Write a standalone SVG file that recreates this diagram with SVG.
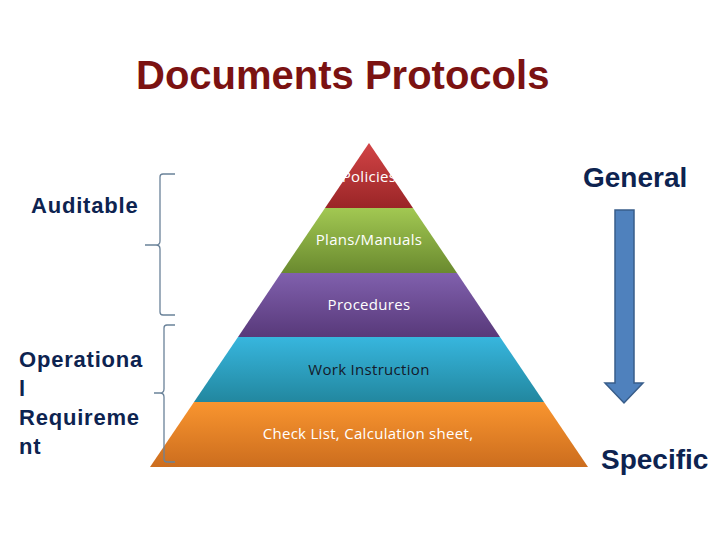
<svg xmlns="http://www.w3.org/2000/svg" width="720" height="540" viewBox="0 0 720 540">
<defs>
<linearGradient id="gRed" x1="0" y1="0" x2="0" y2="1"><stop offset="0" stop-color="#d24446"/><stop offset="1" stop-color="#9a2527"/></linearGradient>
<linearGradient id="gGreen" x1="0" y1="0" x2="0" y2="1"><stop offset="0" stop-color="#a2c852"/><stop offset="1" stop-color="#6a8a2f"/></linearGradient>
<linearGradient id="gPurple" x1="0" y1="0" x2="0" y2="1"><stop offset="0" stop-color="#8060ad"/><stop offset="1" stop-color="#58397a"/></linearGradient>
<linearGradient id="gTeal" x1="0" y1="0" x2="0" y2="1"><stop offset="0" stop-color="#37b6de"/><stop offset="1" stop-color="#22879f"/></linearGradient>
<linearGradient id="gOrange" x1="0" y1="0" x2="0" y2="1"><stop offset="0" stop-color="#f9952f"/><stop offset="1" stop-color="#cc6d1e"/></linearGradient>
</defs>
<style>
.title{font-family:"Liberation Sans",Arial,sans-serif;font-weight:bold;font-size:40px;fill:#7b1212}
.side{font-family:"Liberation Sans",Arial,sans-serif;font-weight:bold;font-size:22px;letter-spacing:0.8px;fill:#0d2350}
.big{font-family:"Liberation Sans",Arial,sans-serif;font-weight:bold;font-size:28px;fill:#0d2350}
.lvl{font-family:"Open Sans","Noto Sans",sans-serif;font-size:15px;letter-spacing:0.3px;text-anchor:middle}
.brace{fill:none;stroke:#6a8299;stroke-width:1.3}
</style>
<rect width="720" height="540" fill="#ffffff"/>
<text class="title" x="136" y="89">Documents Protocols</text>
<g id="pyramid">
<g id="policies"><polygon points="369,143 413,208 325,208" fill="url(#gRed)"/><text class="lvl" x="369" y="182" fill="#ffffff">Policies</text></g>
<g id="plans"><polygon points="325,208 413,208 457,273 281,273" fill="url(#gGreen)"/><text class="lvl" x="369" y="245" fill="#ffffff">Plans/Manuals</text></g>
<g id="procedures"><polygon points="281,273 457,273 500,337 238,337" fill="url(#gPurple)"/><text class="lvl" x="369" y="310" fill="#ffffff">Procedures</text></g>
<g id="work"><polygon points="238,337 500,337 544,402 194,402" fill="url(#gTeal)"/><text class="lvl" x="369" y="375" fill="#141a2a">Work Instruction</text></g>
<g id="checklist"><polygon points="194,402 544,402 588,467 150,467" fill="url(#gOrange)"/><text class="lvl" x="368" y="439" fill="#ffffff">Check List, Calculation sheet,</text></g>
</g>
<g id="auditable"><text class="side" x="31" y="213">Auditable</text></g>
<g id="operational"><text class="side" x="19" y="367">Operationa</text><text class="side" x="19" y="396">l</text><text class="side" x="19" y="425">Requireme</text><text class="side" x="19" y="454">nt</text></g>
<g id="general"><text class="big" x="583" y="187">General</text></g>
<g id="specific"><text class="big" x="601" y="469">Specific</text></g>
<g id="connectors">
<path class="brace" d="M175,174 H163 Q160,174 160,177 V241 Q160,245 156,245 H145 H156 Q160,245 160,249 V312 Q160,315 163,315 H175"/>
<path class="brace" d="M175,325 H167 Q164,325 164,328 V389 Q164,393 160,393 H154 H160 Q164,393 164,397 V459 Q164,462 167,462 H175"/>
<polygon points="615,210 634,210 634,383 643,383 624,403 605,383 615,383" fill="#4f81bd" stroke="#385d8a" stroke-width="1.5"/>
</g>
</svg>
